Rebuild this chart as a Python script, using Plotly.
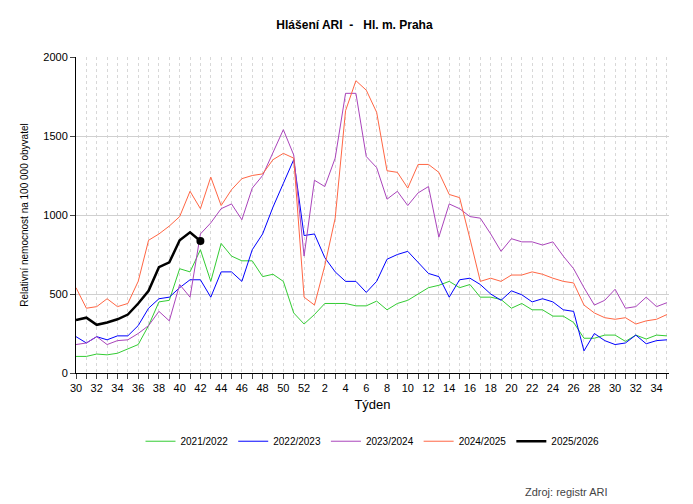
import plotly.graph_objects as go

weeks = list(range(30, 53)) + list(range(1, 36))
s2122 = [105,105,120,115,125,150,180,300,450,460,660,640,780,580,820,740,710,710,610,625,580,380,310,
         370,440,440,440,425,425,455,400,440,460,500,540,555,580,540,560,480,480,465,410,440,400,400,360,360,320,220,220,240,240,200,240,215,240,235]
s2223 = [230,190,230,210,235,235,300,410,470,480,540,590,590,480,640,640,580,780,880,1050,1200,1350,870,
         880,730,640,580,580,510,580,720,750,770,700,630,610,480,590,600,560,500,460,520,495,450,470,450,400,390,140,250,205,180,190,240,185,205,210]
s2324 = [180,190,230,180,205,210,250,300,390,330,560,480,880,950,1040,1070,970,1170,1250,1400,1540,1380,740,
         1220,1180,1360,1770,1770,1370,1300,1100,1150,1060,1140,1180,860,1070,1040,990,980,880,770,850,830,830,810,830,740,660,540,430,460,530,410,420,480,420,445]
s2425 = [540,410,420,470,420,440,580,840,880,930,990,1150,1040,1240,1060,1160,1230,1250,1260,1350,1390,1360,480,
         430,680,980,1660,1850,1790,1650,1280,1270,1170,1320,1320,1270,1130,1110,850,580,600,580,620,620,640,625,600,580,570,430,380,350,340,350,310,330,340,370]
s2526 = [335,350,305,320,340,370,440,520,670,700,840,890,835]

x = list(range(len(weeks)))
fig = go.Figure()
series = [("2021/2022", s2122, "#33cc33", 1), ("2022/2023", s2223, "#0000ff", 1),
          ("2023/2024", s2324, "#aa44bb", 1), ("2024/2025", s2425, "#ff6644", 1),
          ("2025/2026", s2526, "#000000", 2.5)]
for name, vals, col, w in series:
    fig.add_trace(go.Scatter(x=x[:len(vals)], y=vals, name=name, mode="lines",
                             line=dict(color=col, width=w)))
fig.add_trace(go.Scatter(x=[x[len(s2526)-1]], y=[s2526[-1]], mode="markers",
                         marker=dict(color="black", size=8), showlegend=False))

fig.update_layout(
    width=693, height=504, paper_bgcolor="white", plot_bgcolor="white",
    margin=dict(l=68, r=32, t=49, b=139),
    font=dict(family="Arial, Liberation Sans", size=11, color="black"),
    title=dict(text="<b>Hlášení ARI  -   Hl. m. Praha</b>", x=0.5, xanchor="center", y=0.975, font=dict(size=12)),
    xaxis=dict(range=[0, 57.2], tickmode="array", tickvals=x[::2], ticktext=[str(w) for w in weeks[::2]],
               showgrid=True, gridcolor="#d8d8d8", griddash="dot", gridwidth=1,
               showline=True, linecolor="black", ticks="outside", ticklen=5,
               minor=dict(tickvals=x, ticks="outside", ticklen=5, showgrid=True, gridcolor="#d8d8d8", griddash="dot"),
               title=dict(text="Týden", standoff=6), zeroline=False),
    yaxis=dict(range=[0, 2000], tickvals=[0,500,1000,1500,2000], showgrid=True, gridcolor="#d0d0d0",
               showline=True, linecolor="black", ticks="outside", ticklen=5, zeroline=False,
               title=dict(text="Relativní nemocnost na 100 000 obyvatel", font=dict(size=10), standoff=12)),
    legend=dict(orientation="h", x=0.5, xanchor="center", y=-0.17, yanchor="top", font=dict(size=10)),
    annotations=[dict(text="Zdroj: registr ARI", xref="paper", yref="paper", x=0.9, y=-0.375,
                      xanchor="right", yanchor="middle", showarrow=False, font=dict(size=11, color="#444"))],
)
fig.write_html("out.html")
